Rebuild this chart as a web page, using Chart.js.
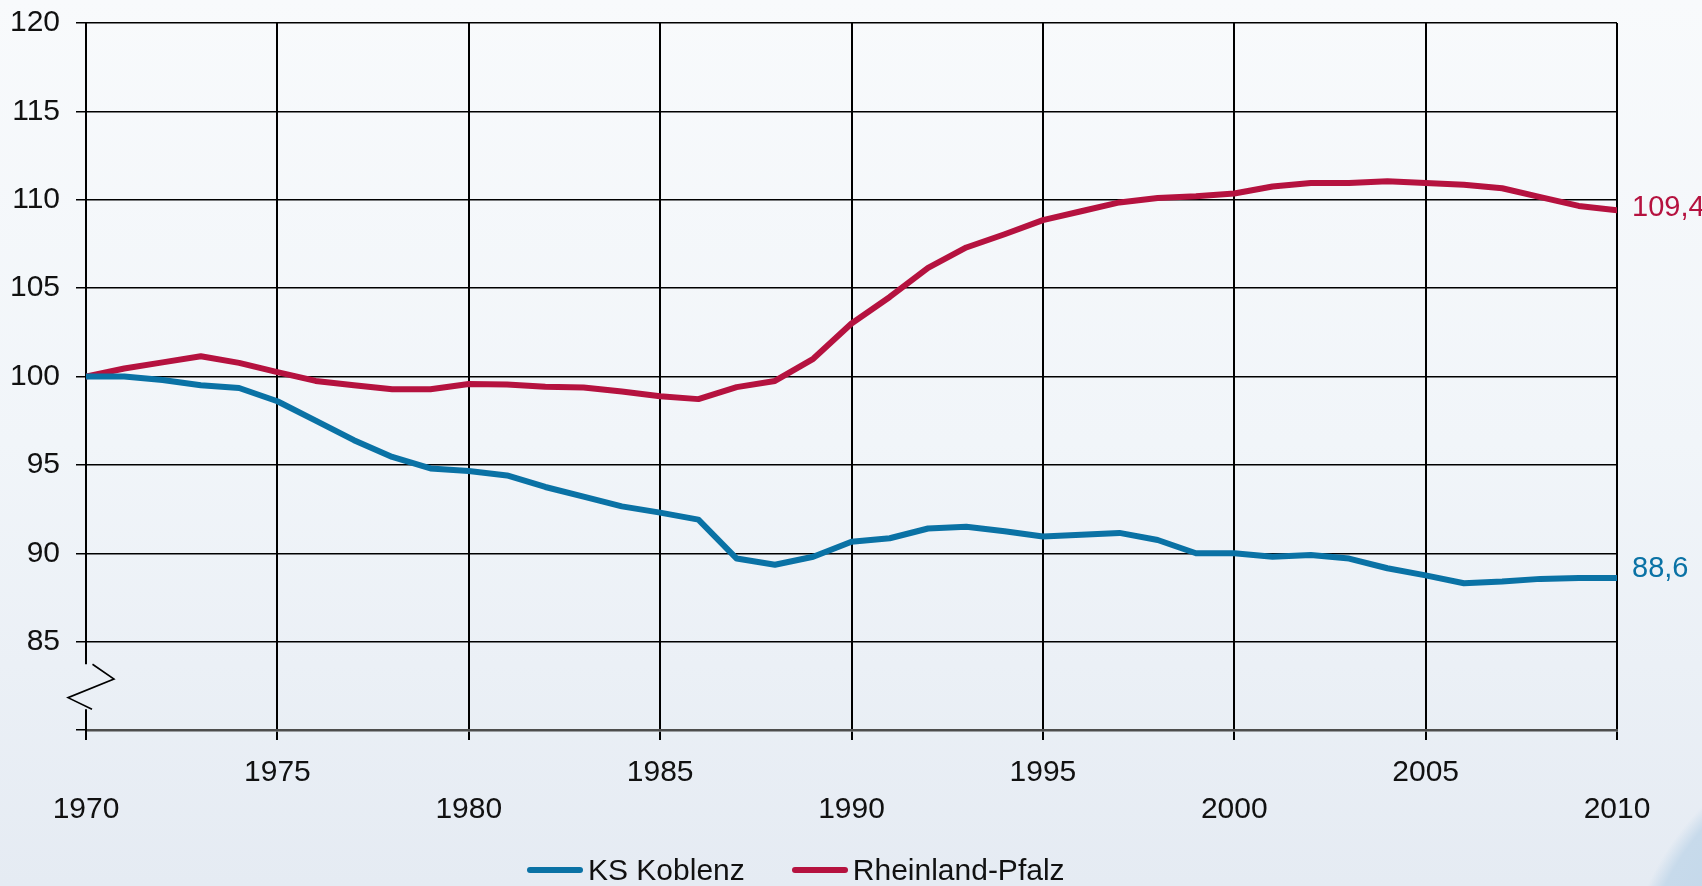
<!DOCTYPE html>
<html lang="de">
<head>
<meta charset="utf-8">
<title>Bevölkerungsentwicklung 1970-2010</title>
<script src="https://cdn.jsdelivr.net/npm/chart.js@4.4.1/dist/chart.umd.min.js"></script>
<style>
    html, body {
        margin: 0;
        padding: 0;
    }
    body {
        width: 1702px;
        height: 886px;
        overflow: hidden;
        font-family: "Liberation Sans", Arial, sans-serif;
        background:
            radial-gradient(circle 285px at 1905px 1005px, #b9d0e6 0, #c7daeb 268px, rgba(199, 218, 235, 0) 284px),
            linear-gradient(to bottom, #f8fafc 0%, #f1f5f9 50%, #e5ebf3 100%);
    }
    #wrap {
        position: relative;
        width: 1702px;
        height: 886px;
    }
    #legend {
        position: absolute;
        left: 527px;
        top: 852px;
        height: 36px;
        display: flex;
        align-items: center;
        font-size: 30px;
        color: #111;
    }
    #legend .item {
        display: flex;
        align-items: center;
    }
    #legend .item + .item {
        margin-left: 47px;
    }
    #legend .mark {
        width: 56px;
        height: 6px;
        border-radius: 3px;
        margin-right: 5px;
    }
</style>
</head>
<body>
<div id="wrap">
    <canvas id="lineChart"></canvas>
    <div id="legend"></div>
</div>
<script>
// Bevölkerung, Index 1970 = 100
const years = [1970, 1971, 1972, 1973, 1974, 1975, 1976, 1977, 1978, 1979,
               1980, 1981, 1982, 1983, 1984, 1985, 1986, 1987, 1988, 1989,
               1990, 1991, 1992, 1993, 1994, 1995, 1996, 1997, 1998, 1999,
               2000, 2001, 2002, 2003, 2004, 2005, 2006, 2007, 2008, 2009, 2010];

const koblenz = [100.0, 100.0, 99.8, 99.5, 99.35, 98.6, 97.5, 96.4, 95.45, 94.8,
                 94.65, 94.4, 93.75, 93.2, 92.65, 92.3, 91.9, 89.7, 89.35, 89.8,
                 90.65, 90.85, 91.4, 91.5, 91.25, 90.95, 91.05, 91.15, 90.75, 90.0,
                 90.0, 89.8, 89.9, 89.7, 89.15, 88.75, 88.3, 88.4, 88.55, 88.6, 88.6];

const rheinlandPfalz = [100.0, 100.45, 100.8, 101.15, 100.77, 100.25, 99.75, 99.5, 99.28, 99.28,
                        99.58, 99.55, 99.42, 99.38, 99.15, 98.88, 98.72, 99.4, 99.75, 101.0,
                        103.0, 104.5, 106.15, 107.3, 108.05, 108.85, 109.35, 109.85, 110.1, 110.2,
                        110.35, 110.75, 110.95, 110.95, 111.05, 110.95, 110.85, 110.65, 110.15, 109.65, 109.4];

const seriesNames = ['KS Koblenz', 'Rheinland-Pfalz'];
const yTicks = [80, 85, 90, 95, 100, 105, 110, 115, 120];

const fontFamily = '"Liberation Sans", Arial, sans-serif';
const blue = '#0a72a5';
const red = '#b5123f';

function toPoints(values) {
    return values.map((v, i) => ({ x: years[i], y: v }));
}

// end labels ("109,4") and the broken y axis
const extras = {
    id: 'extras',
    beforeDatasetsDraw(chart) {
        const { ctx, chartArea, scales: { x, y } } = chart;
        const left = x.getPixelForValue(years[0]);
        const breakTop = y.getPixelForValue(83.72);
        const breakBottom = y.getPixelForValue(81.17);
        ctx.save();
        ctx.strokeStyle = '#000';
        ctx.lineWidth = 2;
        ctx.beginPath();
        ctx.moveTo(left, chartArea.top);
        ctx.lineTo(left, breakTop);
        ctx.moveTo(left, breakBottom);
        ctx.lineTo(left, chartArea.bottom + 10);
        ctx.stroke();

        ctx.lineWidth = 1.6;
        ctx.beginPath();
        ctx.moveTo(left + 6.5, breakTop);
        ctx.lineTo(left + 28, y.getPixelForValue(82.88));
        ctx.lineTo(left - 18, y.getPixelForValue(81.83));
        ctx.lineTo(left + 6, breakBottom);
        ctx.stroke();
        ctx.restore();
    },
    afterDatasetsDraw(chart) {
        const { ctx } = chart;
        ctx.save();
        ctx.font = '29px ' + fontFamily;
        ctx.textAlign = 'left';
        ctx.textBaseline = 'middle';
        chart.data.datasets.forEach((ds, i) => {
            const last = ds.data.length - 1;
            const pt = chart.getDatasetMeta(i).data[last];
            ctx.fillStyle = ds.borderColor;
            ctx.fillText(ds.data[last].y.toFixed(1).replace('.', ','), pt.x + 15, pt.y + ds.labelShift);
        });
        ctx.restore();
    }
};

const ctx = document.getElementById('lineChart').getContext('2d');
const lineChart = new Chart(ctx, {
    type: 'line',
    data: {
        datasets: [{
            label: seriesNames[0],
            data: toPoints(koblenz),
            borderColor: blue,
            borderWidth: 6,
            pointRadius: 0,
            borderJoinStyle: 'round',
            borderCapStyle: 'round',
            tension: 0,
            labelShift: -9
        }, {
            label: seriesNames[1],
            data: toPoints(rheinlandPfalz),
            borderColor: red,
            borderWidth: 6,
            pointRadius: 0,
            borderJoinStyle: 'round',
            borderCapStyle: 'round',
            tension: 0,
            labelShift: -2
        }]
    },
    options: {
        responsive: true,
        maintainAspectRatio: false,
        animation: false,
        layout: {
            padding: { top: 23, right: 85, bottom: 56, left: 0 }
        },
        scales: {
            x: {
                type: 'linear',
                min: years[0],
                max: years[years.length - 1],
                border: { display: true, color: '#4d4d4d', width: 2.5 },
                grid: {
                    color: c => c.tick && c.tick.value === years[0] ? 'rgba(0,0,0,0)' : '#000',
                    tickColor: '#000',
                    lineWidth: 2,
                    tickLength: 10
                },
                ticks: {
                    stepSize: 5,
                    autoSkip: false,
                    maxRotation: 0,
                    padding: 14,
                    color: '#111',
                    font: { family: fontFamily, size: 30, lineHeight: 1.24 },
                    // alternate the year labels over two rows
                    callback: v => ((v - years[0]) / 5) % 2 === 0 ? ['', String(v)] : [String(v), '']
                },
                afterFit: scale => { scale.height = 100; }
            },
            y: {
                min: yTicks[0],
                max: yTicks[yTicks.length - 1],
                border: { display: false },
                grid: {
                    color: c => c.tick && c.tick.value === yTicks[0] ? 'rgba(0,0,0,0)' : '#000',
                    tickColor: '#000',
                    lineWidth: 1.5,
                    tickLength: 10
                },
                ticks: {
                    stepSize: 5,
                    padding: 16,
                    color: '#111',
                    font: { family: fontFamily, size: 30 },
                    callback: v => v === yTicks[0] ? '' : v
                },
                afterFit: scale => {
                    scale.width = 86;
                    scale.paddingTop = 17;
                    scale.paddingBottom = 17;
                }
            }
        },
        plugins: {
            legend: { display: false },
            tooltip: { enabled: false }
        }
    },
    plugins: [extras]
});

// legend below the chart
const legend = document.getElementById('legend');
lineChart.data.datasets.forEach(ds => {
    const item = document.createElement('span');
    item.className = 'item';
    const mark = document.createElement('span');
    mark.className = 'mark';
    mark.style.background = ds.borderColor;
    item.appendChild(mark);
    item.appendChild(document.createTextNode(ds.label));
    legend.appendChild(item);
});
</script>
</body>
</html>
